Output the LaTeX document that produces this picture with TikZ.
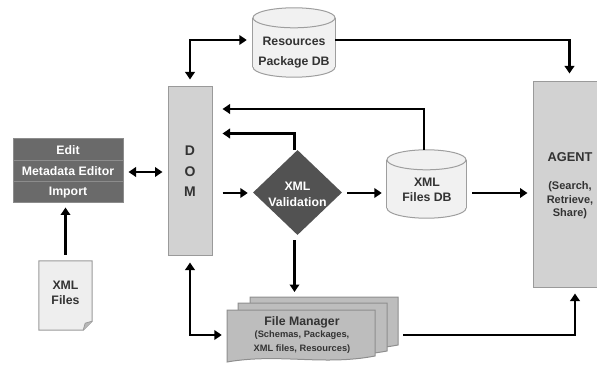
\documentclass[tikz,border=0pt]{standalone}
\usepackage{fontspec}
\setmainfont{Liberation Sans}
\usetikzlibrary{shapes.geometric,arrows.meta,calc}
\definecolor{txtc}{HTML}{333333}
\definecolor{boxfill}{HTML}{D2D2D2}
\definecolor{boxline}{HTML}{9A9A9A}
\definecolor{edfill}{HTML}{6A6A6A}
\definecolor{edsep}{HTML}{8C8C8C}
\definecolor{valfill}{HTML}{525252}
\definecolor{dbfill}{HTML}{F1F1F1}
\definecolor{dbline}{HTML}{9E9E9E}
\definecolor{docfill}{HTML}{EEEEEE}
\definecolor{fmfill}{HTML}{BDBDBD}
\definecolor{fmline}{HTML}{8E8E8E}
\newcommand\dbcyl[3]{%
  \draw[dbshape] ($(#1.south)+(0,-#3)$) ellipse [x radius=#2pt, y radius=#3pt];
  \fill[dbfill] ($(#1.north west)+(0,#3)$) rectangle ($(#1.south east)+(0,-#3)$);
  \draw[dbshape] ($(#1.north west)+(0,#3)$) -- ($(#1.south west)+(0,-#3)$);
  \draw[dbshape] ($(#1.north east)+(0,#3)$) -- ($(#1.south east)+(0,-#3)$);
  \draw[dbshape] ($(#1.north)+(0,#3)$) ellipse [x radius=#2pt, y radius=#3pt];
}
\newcommand\fmsheet[4]{% x0 y0 x1 y1(right bottom)
  \draw[fmshape] (#1,#2) -- (#3,#2) -- (#3,#4)
    .. controls ({#3-0.35*(#3-#1)},{#4+10}) and ({#1+0.35*(#3-#1)},{#4-3}) .. (#1,{#4+6}) -- cycle;
}
\begin{document}
\begin{tikzpicture}[x=1pt,y=-1pt,
  lbl/.style={font=\bfseries\fontsize{12.3}{15}\selectfont, text=txtc, align=center, inner sep=0pt},
  wlbl/.style={lbl, text=white},
  graybox/.style={draw=boxline, fill=boxfill, line width=1pt, inner sep=0pt},
  edbox/.style={draw=edsep, fill=edfill, line width=1pt, inner sep=0pt},
  ghost/.style={inner sep=0pt},
  dbshape/.style={draw=dbline, fill=dbfill, line width=1pt},
  fmshape/.style={draw=fmline, fill=fmfill, line width=1pt},
  arr/.style={line width=2.7pt, -{Triangle[length=7.5pt,width=9.5pt]}},
  darr/.style={line width=2.7pt, {Triangle[length=7.5pt,width=9.5pt]}-{Triangle[length=7.5pt,width=9.5pt]}},
]
\useasboundingbox (0,0) rectangle (597,366);

% DOM
\node[graybox, minimum width=44pt, minimum height=168pt] (dom) at (190,171) {};
\node[lbl, font=\bfseries\fontsize{14}{20.5}\selectfont] (domtxt) at (190,171.5) {D\\O\\M};

% Editor
\node[edbox, minimum width=110pt, minimum height=64pt] (editor) at (68,171) {};
\draw[edsep, line width=0.8pt] (13.5,160.3) -- (122.5,160.3);
\draw[edsep, line width=0.8pt] (13.5,181.7) -- (122.5,181.7);
\node[wlbl] (edit) at (68,150.5) {Edit};
\node[wlbl] (meta) at (68,171.5) {Metadata Editor};
\node[wlbl] (import) at (68,192.5) {Import};

% XML Files document
\node[ghost, minimum width=53pt, minimum height=69pt] (doc) at (65.5,295.5) {};
\draw[draw=boxline, fill=docfill, line width=1pt] (doc.north west) -- (doc.north east)
  -- ($(doc.south east)+(0,-9)$) -- ($(doc.south east)+(-9,0)$) -- (doc.south west) -- cycle;
\draw[draw=boxline, fill=boxline!70, line width=0.8pt] ($(doc.south east)+(0,-9)$) -- ($(doc.south east)+(-7,-7)$) -- ($(doc.south east)+(-9,0)$);
\node[lbl] (doctxt) at (65.5,292.5) {XML\\Files};

% Resources DB
\node[ghost, minimum width=82pt, minimum height=69pt] (resdb) at (294,42.5) {};
\dbcyl{resdb}{41}{10}
\node[lbl, font=\bfseries\fontsize{12.3}{20.5}\selectfont] (resdbtxt) at (294,52.5) {Resources\\Package DB};

% XML Files DB
\node[ghost, minimum width=79pt, minimum height=68pt] (xmldb) at (426.5,184) {};
\dbcyl{xmldb}{39.5}{10}
\node[lbl, font=\bfseries\fontsize{12.3}{15.5}\selectfont] (xmldbtxt) at (427,190) {XML\\Files DB};

% Validation
\node[diamond, fill=valfill, inner sep=0pt, minimum width=89pt, minimum height=85pt] (val) at (297.5,192.5) {};
\node[wlbl, font=\bfseries\fontsize{12.3}{16}\selectfont] (valtxt) at (297.5,194) {XML\\Validation};

% Agent
\node[graybox, minimum width=73pt, minimum height=205pt] (agent) at (569.5,184.5) {};
\node[lbl, font=\bfseries\fontsize{12.8}{15}\selectfont] (agenttitle) at (570,157) {AGENT};
\node[lbl, font=\bfseries\fontsize{11}{13.5}\selectfont] (agentsub) at (570,200.5) {(Search,\\Retrieve,\\Share)};

% File manager
\fmsheet{250}{297}{398}{345}
\fmsheet{238}{303}{387}{351}
\fmsheet{227}{310}{375}{356}
\node[ghost, minimum width=148pt, minimum height=50pt] (fm) at (301,335) {};
\node[lbl] (fmtitle) at (302,322) {File Manager};
\node[lbl, font=\bfseries\fontsize{9.3}{14}\selectfont] (fmsub) at (302,342) {(Schemas, Packages,\\XML files, Resources)};

% helper coordinates
\coordinate (yA) at (0,109);
\coordinate (yB) at (0,133.5);
\coordinate (yC) at (0,193);
\coordinate (yD) at (0,40);
\coordinate (yE) at (0,335);
\coordinate (yF) at (0,297);
\coordinate (yG) at (0,172);
\coordinate (vs) at ($(val.south)+(-3,0)$);
\coordinate (vn) at ($(val.north)+(-3,0)$);
\coordinate (xn) at ($(xmldb.north)+(-2.5,0)$);
\coordinate (as) at ($(agent.south)+(5.5,0)$);
\coordinate (fme) at (403,335);

% Connectors
\draw[darr, shorten <=7pt, shorten >=6pt] (dom.north) |- (resdb.west |- yD);
\draw[arr, shorten >=8pt] (resdb.east |- yD) -| (agent.north);
\draw[arr, shorten >=10pt] (xn) |- (dom.east |- yA);
\draw[arr, shorten >=10pt] (vn) |- (dom.east |- yB);
\draw[arr, shorten <=10pt, shorten >=5pt] (dom.east |- yC) -- (val.west |- yC);
\draw[arr, shorten <=5pt, shorten >=5pt] (val.east |- yC) -- (xmldb.west |- yC);
\draw[arr, shorten <=6pt, shorten >=5pt] (xmldb.east |- yC) -- (agent.west |- yC);
\draw[arr, shorten <=5pt, shorten >=5pt] (vs) -- (vs |- yF);
\draw[darr, shorten <=7pt, shorten >=5pt] (dom.south) |- (fm.west |- yE);
\draw[arr, shorten >=6pt] (fme) -| (as);
\draw[darr, shorten <=5pt, shorten >=5pt] (editor.east |- yG) -- (dom.west |- yG);
\draw[arr, shorten <=6pt, shorten >=4pt] (doc.north) -- (editor.south -| doc.north);
\end{tikzpicture}
\end{document}
